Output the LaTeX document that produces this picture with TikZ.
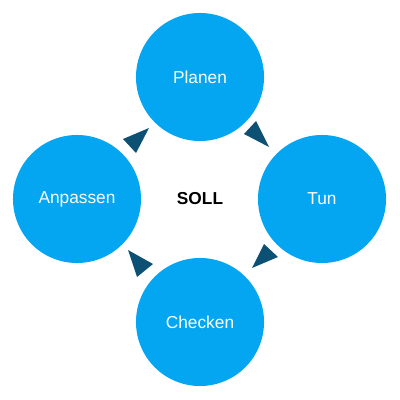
\documentclass[tikz,border=0pt]{standalone}
\usepackage{fontspec}
\setmainfont{Liberation Sans}
\usepackage{xcolor}
\usetikzlibrary{positioning,calc}

\definecolor{stepblue}{RGB}{4,166,242}
\definecolor{tipblue}{RGB}{12,80,116}

\tikzset{
    phase/.style={circle,fill=stepblue,minimum size=3.2cm,inner sep=0pt,text=white,font=\fontsize{12.3}{14}\selectfont},
    tip/.style={fill=tipblue}
}

\begin{document}
\begin{tikzpicture}[x=0.025cm,y=-0.025cm]
    \useasboundingbox (0,0) rectangle (400,400);

    % phases of the cycle
    \node[phase] (planen) at (200,77) {Planen};
    \node[phase] (tun) at (322,199) {Tun};
    \node[phase] (checken) at (200,322) {Checken};
    \node[phase] (anpassen) at (77,199) {Anpassen};

    \node[font=\fontsize{12.3}{14}\selectfont\bfseries] (soll) at (200,199) {SOLL};

    % arrow tips between the phases
    \fill[tip] (244,134) -- (256,121) -- (269,147) -- cycle; % Planen -> Tun
    \fill[tip] (264,244) -- (278,257) -- (252,268) -- cycle; % Tun -> Checken
    \fill[tip] (153,264) -- (137,277) -- (128,250) -- cycle; % Checken -> Anpassen
    \fill[tip] (123,139) -- (149,128) -- (136,153) -- cycle; % Anpassen -> Planen
\end{tikzpicture}
\end{document}
